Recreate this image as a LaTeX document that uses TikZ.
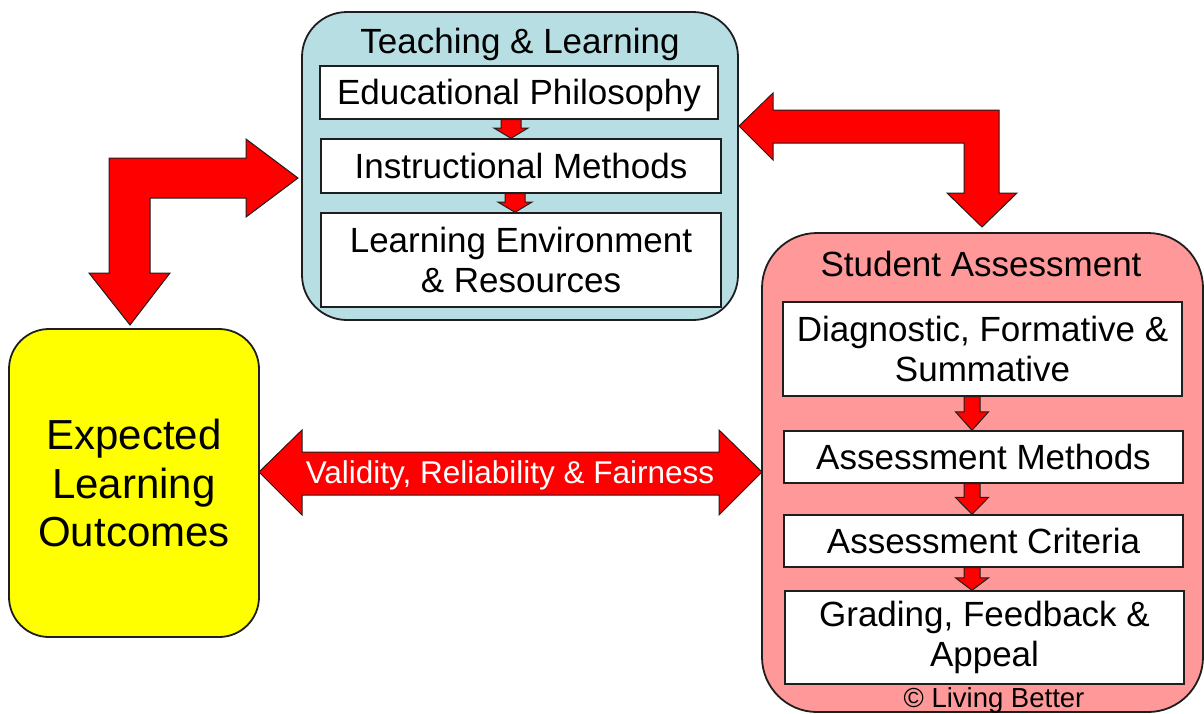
\documentclass[tikz,border=0pt]{standalone}
\usepackage{fontspec}
\setmainfont{Liberation Sans}
\usetikzlibrary{calc}
\definecolor{tlblue}{RGB}{183,222,226}
\definecolor{sapink}{RGB}{255,153,153}
\definecolor{eloyellow}{RGB}{255,255,0}
\definecolor{arrred}{RGB}{255,0,0}
\definecolor{edgecol}{RGB}{30,30,30}
\newcommand\stepdown[5]{%
  \draw[blockarrow] let \p1=(#1.south), \p2=(#2.north), \p3=(#3,0), \n1={(\y1-\y2)*0.55} in
   (\x3-#4pt,\y1) -- (\x3+#4pt,\y1) -- (\x3+#4pt,\y2+\n1*1pt) -- (\x3+#5pt,\y2+\n1*1pt)
   -- (\x3,\y2) -- (\x3-#5pt,\y2+\n1*1pt) -- (\x3-#4pt,\y2+\n1*1pt) -- cycle;}
\begin{document}
\begin{tikzpicture}[x=1pt,y=-1pt,
  panel/.style={draw=edgecol, line width=1.8pt, rounded corners=#1, inner sep=0pt},
  item/.style={draw=edgecol, line width=1.4pt, fill=white, align=center, inner sep=0pt,
    font=\fontsize{35}{40}\selectfont},
  oneline/.style={text height=24pt, text depth=0pt},
  titletext/.style={font=\fontsize{35}{40}\selectfont, inner sep=0pt, anchor=base},
  blockarrow/.style={draw=edgecol, line width=1pt, fill=arrred, line join=miter}]
\useasboundingbox (0,0) rectangle (1204,713);

% panels
\node[panel=45pt, fill=tlblue, minimum width=436pt, minimum height=308pt] (tl) at (520,166) {};
\node[panel=55pt, fill=sapink, minimum width=441pt, minimum height=479pt] (sa) at (982.5,472.5) {};
\node[panel=40pt, fill=eloyellow, minimum width=250pt, minimum height=308pt, align=center,
  font=\fontsize{42}{48.5}\selectfont] (elo) at (134,483) {Expected\\Learning\\Outcomes};

% titles
\node[titletext] (tlt) at (520,53) {Teaching \& Learning};
\node[titletext] (sat) at (981,276) {Student Assessment};
\node[inner sep=0pt, anchor=base, font=\fontsize{27.5}{30}\selectfont] (copy) at (994,707) {© Living Better};

% teaching items
\node[item, oneline, minimum width=398pt, minimum height=53pt] (ep) at (519,92.5) {Educational Philosophy};
\node[item, oneline, minimum width=400pt, minimum height=54pt] (im) at (521,166) {Instructional Methods};
\node[item, minimum width=400pt, minimum height=94pt] (le) at (521,260) {Learning Environment\\\& Resources};

% assessment items
\node[item, minimum width=399pt, minimum height=94pt] (dfs) at (982.5,349) {Diagnostic, Formative \&\\Summative};
\node[item, oneline, minimum width=399pt, minimum height=52pt] (am) at (983.5,457) {Assessment Methods};
\node[item, oneline, minimum width=399pt, minimum height=52pt] (ac) at (983.5,541) {Assessment Criteria};
\node[item, minimum width=399pt, minimum height=93pt] (gfa) at (984.5,637.5) {Grading, Feedback \&\\Appeal};

% small step arrows
\stepdown{ep}{im}{511}{10}{17}
\stepdown{im}{le}{515}{10}{17}
\stepdown{dfs}{am}{972}{8}{16.5}
\stepdown{am}{ac}{972}{8}{16.5}
\stepdown{ac}{gfa}{972}{8}{16.5}

% big bent arrow: Teaching <-> Expected outcomes
\draw[blockarrow] (109,158) -- (246,158) -- (246,139) -- (298,178) -- (246,217) -- (246,198)
  -- (150,198) -- (150,273) -- (170,273) -- (130,325) -- (89,273) -- (109,273) -- cycle;

% big bent arrow: Teaching <-> Student assessment
\draw[blockarrow] (739,126) -- (773,93) -- (773,110) -- (999,110) -- (999,193) -- (1017,193)
  -- (982,227) -- (947,193) -- (964,193) -- (964,143) -- (773,143) -- (773,160) -- cycle;

% double arrow: outcomes <-> assessment
\draw[blockarrow] (259,472) -- (302,430) -- (302,452) -- (719,452) -- (719,430) -- (762,472)
  -- (719,515) -- (719,495) -- (302,495) -- (302,515) -- cycle;
\node[inner sep=0pt, anchor=base, text=white, font=\fontsize{31.5}{34}\selectfont] (vrf) at (510,483)
  {Validity, Reliability \& Fairness};
\end{tikzpicture}
\end{document}
